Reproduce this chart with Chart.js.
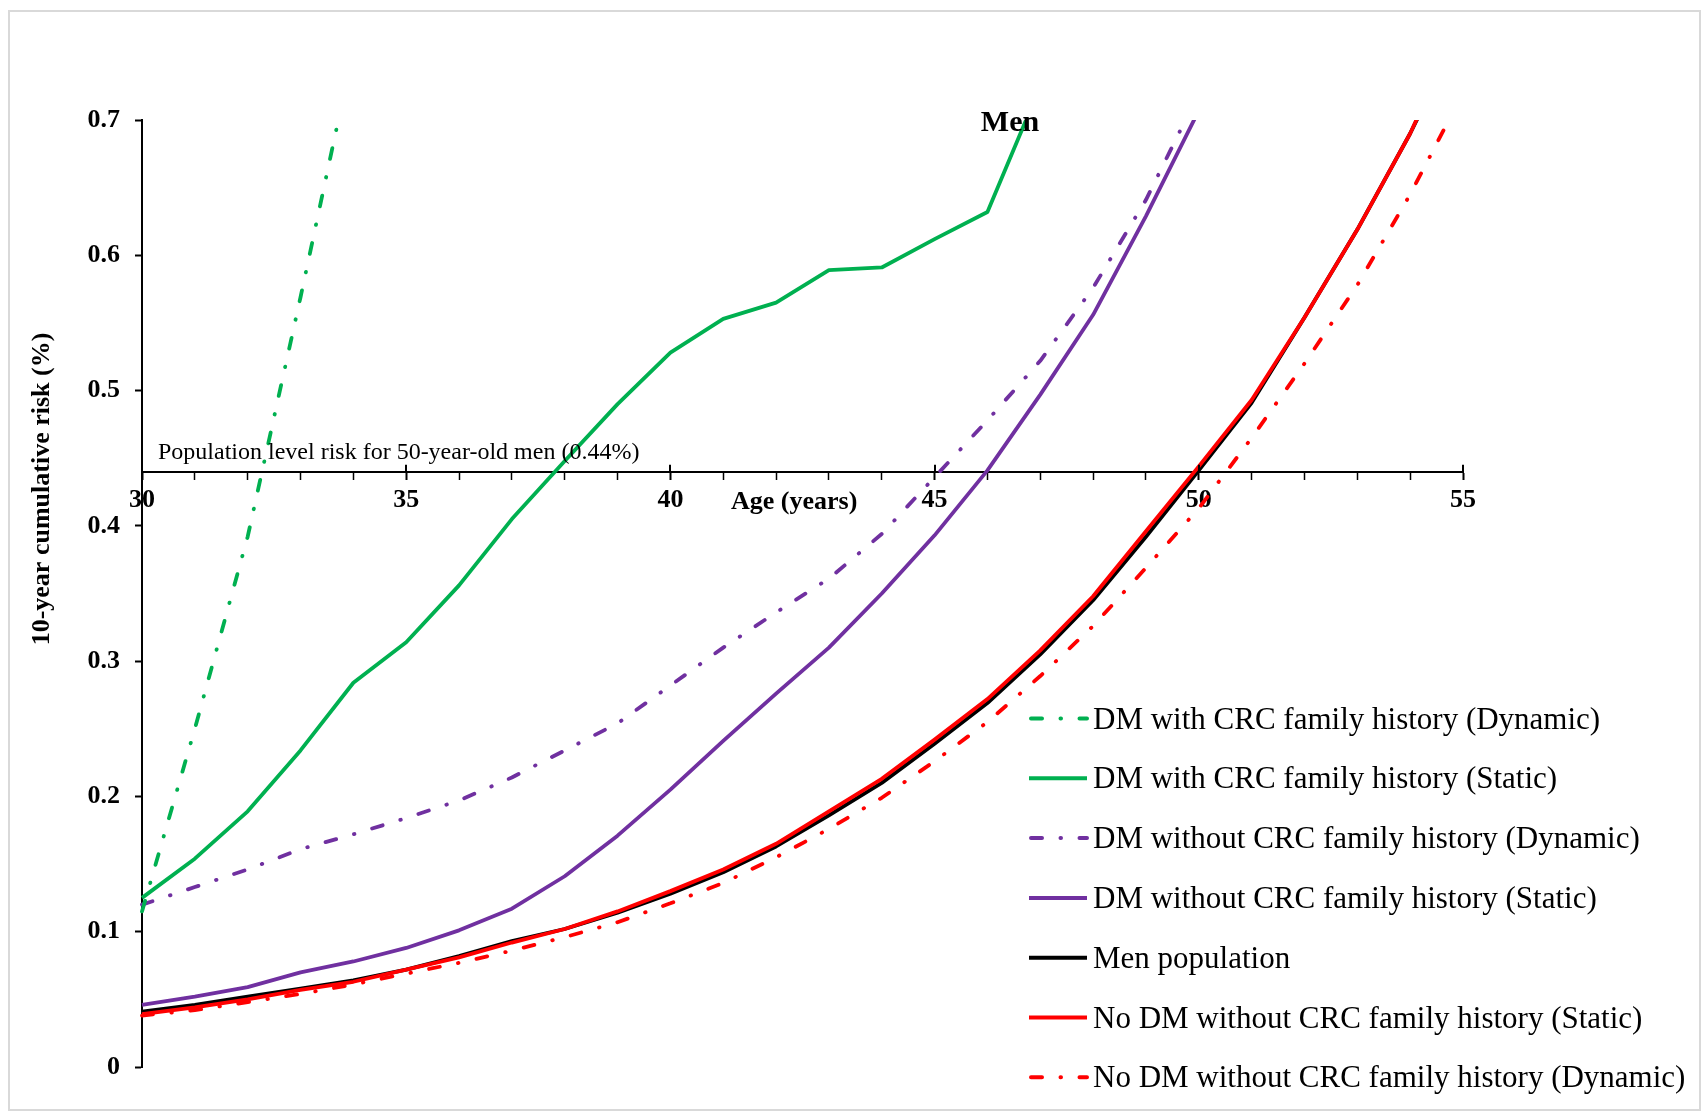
<!DOCTYPE html>
<html>
<head>
<meta charset="utf-8">
<title>10-year cumulative risk - Men</title>
<script src="https://cdn.jsdelivr.net/npm/chart.js@4.4.1/dist/chart.umd.min.js"></script>
<style>
    html, body { margin: 0; padding: 0; background: #fff; }
    #wrap { position: relative; width: 1705px; height: 1115px; }
</style>
</head>
<body>
<div id="wrap"><canvas id="riskChart" width="1705" height="1115"></canvas></div>
<script>
// Age in years (x axis)
const ages = [30, 31, 32, 33, 34, 35, 36, 37, 38, 39, 40, 41, 42, 43, 44, 45, 46, 47, 48, 49, 50, 51, 52, 53, 54, 55];

// 10-year cumulative risk (%) per series
const dmFhDynamic   = [0.115, 0.25, 0.392, 0.569, 0.752];
const dmFhStatic    = [0.125, 0.154, 0.189, 0.234, 0.284, 0.314, 0.356, 0.405, 0.448, 0.490, 0.528, 0.553, 0.565, 0.589, 0.591, 0.612, 0.632, 0.725];
const dmNoFhDynamic = [0.120, 0.133, 0.146, 0.161, 0.172, 0.184, 0.197, 0.214, 0.234, 0.254, 0.282, 0.310, 0.336, 0.361, 0.394, 0.436, 0.478, 0.522, 0.576, 0.641, 0.720];
const dmNoFhStatic  = [0.046, 0.052, 0.059, 0.070, 0.078, 0.088, 0.101, 0.117, 0.141, 0.171, 0.205, 0.241, 0.276, 0.310, 0.350, 0.393, 0.441, 0.497, 0.556, 0.629, 0.707];
const menPopulation = [0.041, 0.046, 0.052, 0.058, 0.064, 0.072, 0.082, 0.093, 0.102, 0.114, 0.128, 0.144, 0.163, 0.186, 0.210, 0.239, 0.269, 0.305, 0.345, 0.392, 0.441, 0.491, 0.554, 0.619, 0.690, 0.770];
const noDmStatic    = [0.039, 0.044, 0.050, 0.057, 0.063, 0.072, 0.081, 0.092, 0.102, 0.115, 0.130, 0.146, 0.165, 0.189, 0.213, 0.242, 0.272, 0.308, 0.348, 0.396, 0.444, 0.493, 0.554, 0.619, 0.690, 0.775];
const noDmDynamic   = [0.038, 0.042, 0.048, 0.054, 0.061, 0.069, 0.077, 0.086, 0.096, 0.107, 0.121, 0.136, 0.155, 0.176, 0.199, 0.226, 0.255, 0.289, 0.326, 0.369, 0.413, 0.465, 0.520, 0.578, 0.645, 0.720];

const seriesLabels = [
    'DM with CRC family history (Dynamic)',
    'DM with CRC family history (Static)',
    'DM without CRC family history (Dynamic)',
    'DM without CRC family history (Static)',
    'Men population',
    'No DM without CRC family history (Static)',
    'No DM without CRC family history (Dynamic)'
];

const populationRisk = 0.44;
const FONT = '"Liberation Serif", "Times New Roman", serif';
const DASH_DOT = [11, 18.5, 0.5, 18.5];

function points(vals) {
    return vals.map((v, i) => ({ x: ages[i], y: v }));
}

function series(label, vals, color, dashed, order) {
    return {
        label: label,
        data: points(vals),
        borderColor: color,
        backgroundColor: color,
        borderWidth: 3.8,
        borderDash: dashed ? DASH_DOT : [],
        borderCapStyle: dashed ? 'round' : 'butt',
        borderJoinStyle: 'round',
        pointRadius: 0,
        tension: 0,
        fill: false,
        order: order,
        clip: { left: 4, top: 0, right: 0, bottom: 4 }
    };
}

// Frame, free texts, major tick crossings and the legend
const decorPlugin = {
    id: 'decor',
    beforeDraw(chart) {
        const ctx = chart.ctx;
        ctx.save();
        ctx.fillStyle = '#fff';
        ctx.fillRect(0, 0, chart.width, chart.height);
        ctx.strokeStyle = '#d9d9d9';
        ctx.lineWidth = 2;
        ctx.strokeRect(9, 11, 1691, 1099);
        ctx.restore();
    },
    afterDraw(chart) {
        const ctx = chart.ctx;
        const xs = chart.scales.x, ys = chart.scales.y;
        const axisY = ys.getPixelForValue(populationRisk);
        ctx.save();

        // upper half of the major x ticks
        ctx.strokeStyle = '#000';
        ctx.lineWidth = 2;
        for (let a = 30; a <= 55; a += 5) {
            const px = Math.round(xs.getPixelForValue(a));
            ctx.beginPath();
            ctx.moveTo(px, axisY - 7);
            ctx.lineTo(px, axisY);
            ctx.stroke();
        }

        ctx.fillStyle = '#000';
        ctx.textBaseline = 'alphabetic';

        ctx.font = '24px ' + FONT;
        ctx.textAlign = 'left';
        ctx.fillText('Population level risk for 50-year-old men (0.44%)', 158, axisY - 13);

        ctx.font = 'bold 26px ' + FONT;
        ctx.fillText('Age (years)', 731, axisY + 37);

        ctx.font = 'bold 30px ' + FONT;
        ctx.textAlign = 'center';
        ctx.fillText('Men', 1010, 131);

        // y axis title
        ctx.save();
        ctx.translate(49, 489);
        ctx.rotate(-Math.PI / 2);
        ctx.font = 'bold 26px ' + FONT;
        ctx.textAlign = 'center';
        ctx.fillText('10-year cumulative risk (%)', 0, 0);
        ctx.restore();

        // legend
        chart.data.datasets.forEach((ds, i) => {
            const y = 718.5 + i * 59.8;
            ctx.strokeStyle = ds.borderColor;
            ctx.lineWidth = 4;
            ctx.lineCap = ds.borderCapStyle;
            ctx.setLineDash(ds.borderDash);
            ctx.beginPath();
            ctx.moveTo(ds.borderDash.length ? 1031 : 1029, y);
            ctx.lineTo(1087, y);
            ctx.stroke();
            ctx.setLineDash([]);
            ctx.fillStyle = '#000';
            ctx.font = '31px ' + FONT;
            ctx.textAlign = 'left';
            ctx.fillText(ds.label, 1093, y + 10);
        });
        ctx.restore();
    }
};

const ctx = document.getElementById('riskChart').getContext('2d');
new Chart(ctx, {
    type: 'line',
    data: {
        datasets: [
            series(seriesLabels[0], dmFhDynamic, '#00B050', true, 1),
            series(seriesLabels[1], dmFhStatic, '#00B050', false, 2),
            series(seriesLabels[2], dmNoFhDynamic, '#7030A0', true, 3),
            series(seriesLabels[3], dmNoFhStatic, '#7030A0', false, 4),
            series(seriesLabels[4], menPopulation, '#000000', false, 6),
            series(seriesLabels[5], noDmStatic, '#FF0000', false, 5),
            series(seriesLabels[6], noDmDynamic, '#FF0000', true, 7)
        ]
    },
    options: {
        responsive: false,
        animation: false,
        devicePixelRatio: 1,
        layout: { padding: { left: 0, top: 120, right: 242, bottom: 48 } },
        plugins: {
            legend: { display: false },
            tooltip: { enabled: false },
            title: { display: false }
        },
        scales: {
            x: {
                type: 'linear',
                min: 30,
                max: 55,
                position: { y: populationRisk },
                ticks: {
                    stepSize: 1,
                    autoSkip: false,
                    maxRotation: 0,
                    color: '#000',
                    padding: 6,
                    font: { family: FONT, size: 26, weight: 'bold' },
                    callback: v => (v % 5 === 0 ? String(v) : '')
                },
                grid: {
                    drawOnChartArea: false,
                    drawTicks: true,
                    tickLength: 7,
                    color: '#000',
                    tickWidth: c => (c.tick && c.tick.value % 5 === 0 ? 2 : 1.5)
                },
                border: { color: '#000', width: 2 }
            },
            y: {
                min: 0,
                max: 0.7,
                ticks: {
                    stepSize: 0.1,
                    color: '#000',
                    padding: 15,
                    font: { family: FONT, size: 26, weight: 'bold' },
                    callback: v => (Math.abs(v) < 1e-9 ? '0' : v.toFixed(1))
                },
                grid: {
                    drawOnChartArea: false,
                    drawTicks: true,
                    tickLength: 7,
                    color: '#000',
                    tickWidth: 2
                },
                border: { color: '#000', width: 2 },
                afterFit: s => { s.width = 142; }
            }
        }
    },
    plugins: [decorPlugin]
});
</script>
</body>
</html>
